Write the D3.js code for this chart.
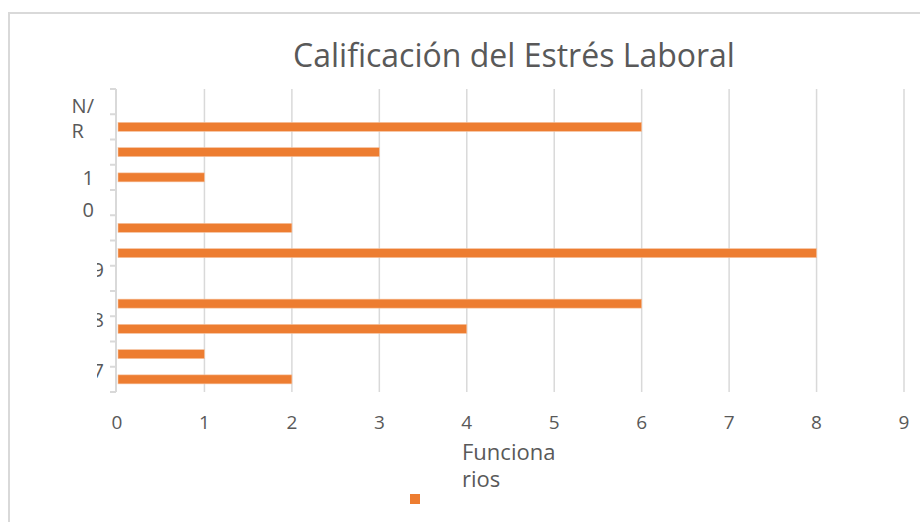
<!DOCTYPE html>
<html>
<head>
<meta charset="utf-8">
<script src="https://cdn.jsdelivr.net/npm/d3@7"></script>
<style>
	body { margin: 0; background: #fff; }
	text { font-family: "Open Sans", sans-serif; fill: #595959; }
</style>
</head>
<body>
<div id="chart"></div>
<script>
const WIDTH = 920
const HEIGHT = 522

// bands from bottom to top, only some carry a visible label
var categories = ["0", "1", "2", "3", "4", "5", "6", "7", "8", "9", "10", "11"]
var values = [2, 1, 4, 6, 0, 8, 2, 0, 1, 3, 6, 0]
var tickLabels = ["7", "", "8", "", "9", "", "", "1\n0", "", "", "N/\nR", ""]
var xTicks = [0, 1, 2, 3, 4, 5, 6, 7, 8, 9]

var title = "Calificación del Estrés Laboral"
var axisTitle = ["Funciona", "rios"]
var barColor = "#ED7D31"
var gridColor = "#D9D9D9"

var margin = {top: 89, right: 16, bottom: 130, left: 117},
    width = WIDTH - margin.left - margin.right,
    height = HEIGHT - margin.top - margin.bottom;

var svg = d3.select("#chart")
	.append("svg")
	.attr("width", WIDTH)
	.attr("height", HEIGHT)

// chart frame (only top and left edges are visible)
svg.append("path")
	.attr("d", "M9," + HEIGHT + "V13H" + WIDTH)
	.attr("fill", "none")
	.attr("stroke", gridColor)
	.attr("stroke-width", 2)

var g = svg.append("g")
	.attr("transform", "translate(" + margin.left + "," + margin.top + ")");

var x = d3.scaleLinear()
	.domain([0, 9])
	.range([0, 787]);

var y = d3.scaleBand()
	.domain(categories.slice().reverse())
	.range([0, height])
	.paddingInner(0)
	.paddingOuter(0);

// vertical gridlines
g.selectAll(".grid")
	.data(xTicks.filter(d => d > 0))
	.enter()
	.append("line")
	.attr("x1", d => x(d))
	.attr("x2", d => x(d))
	.attr("y1", 0)
	.attr("y2", height)
	.attr("stroke", gridColor)
	.attr("stroke-width", 1.5)

// y axis line with ticks at band edges
g.append("line")
	.attr("x1", -1).attr("x2", -1)
	.attr("y1", 0).attr("y2", height)
	.attr("stroke", gridColor)
	.attr("stroke-width", 2)

var edges = categories.map(c => y(c)).concat([height])
g.selectAll(".ytick")
	.data(edges)
	.enter()
	.append("line")
	.attr("x1", -7).attr("x2", -1)
	.attr("y1", d => d).attr("y2", d => d)
	.attr("stroke", gridColor)
	.attr("stroke-width", 2)

// bars
var barH = 9
g.selectAll(".bar")
	.data(categories.map((c, i) => ({cat: c, value: values[i]})).filter(d => d.value > 0))
	.enter()
	.append("rect")
	.attr("x", x(0) + 1)
	.attr("y", d => y(d.cat) + y.bandwidth() / 2 - barH / 2)
	.attr("width", d => x(d.value) - x(0) - 1)
	.attr("height", barH)
	.attr("fill", barColor)
	.attr("stroke", "#F6C3A0")
	.attr("stroke-width", 0.6)

// x tick labels
g.selectAll(".xlab")
	.data(xTicks)
	.enter()
	.append("text")
	.attr("x", d => x(d))
	.attr("y", height + 37)
	.attr("text-anchor", "middle")
	.style("font-size", "19px")
	.text(d => d)

// y labels: squeezed into a narrow box like in the original
svg.append("clipPath")
	.attr("id", "ylabclip")
	.append("rect")
	.attr("x", 97).attr("y", 0)
	.attr("width", 18).attr("height", HEIGHT)

categories.forEach(function(c, i){
	var lab = tickLabels[i]
	if(lab === "") return
	var lines = lab.split("\n")
	var cy = margin.top + y(c) + 4
	if(lines.length === 1){
		svg.append("text")
			.attr("x", 104)
			.attr("y", cy + 7)
			.attr("text-anchor", "end")
			.attr("clip-path", "url(#ylabclip)")
			.style("font-size", "20px")
			.text(lab)
	} else {
		var lh = lines[0] === "1" ? 32 : 25
		var tg = svg.append("g")
		var ts = lines.map(function(l, k){
			return tg.append("text")
				.attr("y", cy + 7 + (k - (lines.length - 1) / 2) * lh)
				.style("font-size", "20px")
				.text(l)
		})
		// block is left aligned, right edge of the widest line at x = 94
		var w = d3.max(ts, t => t.node().getComputedTextLength())
		ts.forEach(t => t.attr("x", 94 - w))
	}
})

// title
svg.append("text")
	.attr("x", 514)
	.attr("y", 67)
	.attr("text-anchor", "middle")
	.style("font-size", "32px")
	.text(title)

// axis title, wrapped onto two lines inside one text
var at = svg.append("text")
	.attr("x", 462)
	.attr("y", 460)
	.style("font-size", "22px")
axisTitle.forEach(function(t, k){
	at.append("tspan")
		.attr("x", 462)
		.attr("dy", k === 0 ? 0 : 27)
		.text(t)
})

// legend marker (series has no name)
svg.append("rect")
	.attr("x", 410)
	.attr("y", 494)
	.attr("width", 10)
	.attr("height", 10)
	.attr("fill", barColor)
</script>
</body>
</html>
